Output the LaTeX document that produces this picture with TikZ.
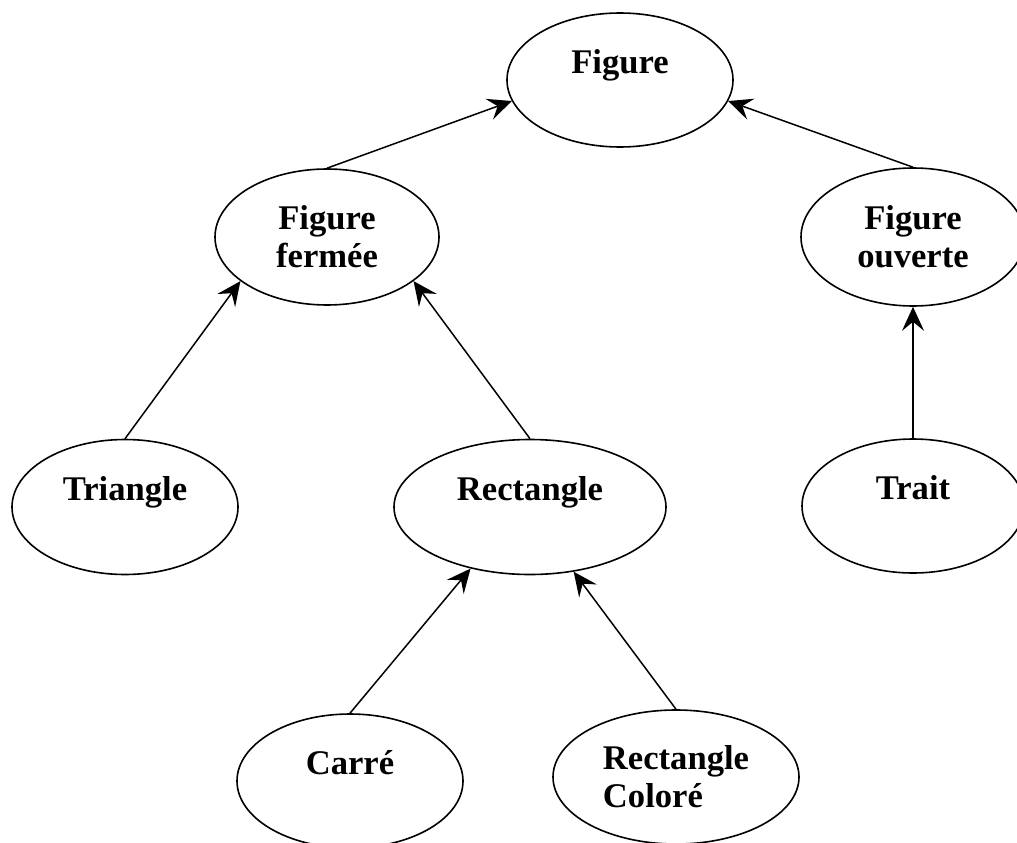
\documentclass[tikz,border=0pt]{standalone}
\usepackage{fontspec}
\setmainfont{Liberation Serif}
\usepackage{tikz}
\usetikzlibrary{shapes.geometric,arrows.meta}

\begin{document}
\begin{tikzpicture} [x=1pt, y=-1pt, bulle/.style={draw,ellipse,inner sep=0pt,line width=1.6pt,align=center,font=\bfseries\fontsize{34.6}{38}\selectfont}, fleche/.style={draw,-{Stealth[length=24pt,width=22pt,inset=9pt]},line width=1.5pt} ]
    \useasboundingbox (0,0) rectangle (1017,843);
    % les classes
    \node[bulle,minimum width=226,minimum height=134] (fig) at (620,80) {Figure\\\mbox{}};
    \node[bulle,minimum width=224,minimum height=136] (ferm) at (327,237) {Figure\\fermée};
    \node[bulle,minimum width=224,minimum height=138] (ouv) at (913,237) {Figure\\ouverte};
    \node[bulle,minimum width=226,minimum height=135] (tri) at (125,507) {Triangle\\\mbox{}};
    \node[bulle,minimum width=272,minimum height=135] (rect) at (530,507) {Rectangle\\\mbox{}};
    \node[bulle,minimum width=222,minimum height=134] (trait) at (913,506) {Trait\\\mbox{}};
    \node[bulle,minimum width=226,minimum height=134] (carre) at (350,781) {Carré\\\mbox{}};
    \node[bulle,minimum width=246,minimum height=134,align=left] (rcol) at (676,777) {Rectangle\\Coloré};

      \path[every edge/.style={fleche}]
      (ferm.north) edge (fig.191)
      (ouv.north) edge (fig.349)
      (tri.north) edge (ferm.207)
      (rect.north) edge (ferm.333)
      (trait.north) edge (ouv.south)
      (carre.north) edge (rect.226)
      (rcol.north) edge (rect.304)
      ;
    \end{tikzpicture}
\end{document}
